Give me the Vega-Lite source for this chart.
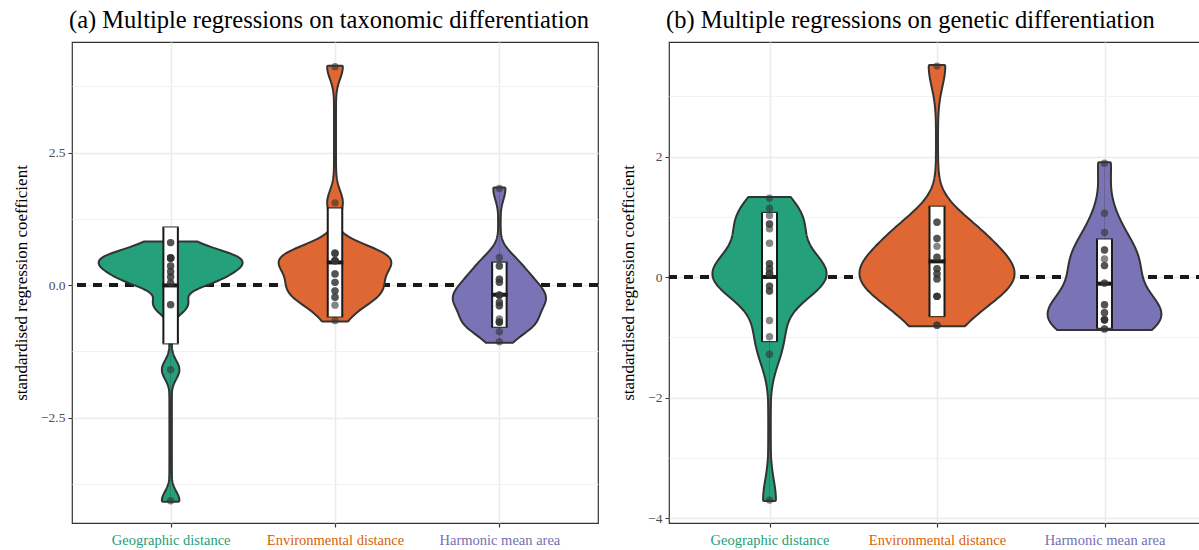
{
  "$schema": "https://vega.github.io/schema/vega-lite/v6.json",
  "padding": {"left": 11, "top": 6, "right": 0, "bottom": 0},
  "spacing": 19,
  "background": "white",
  "datasets": {
    "a": [
      {"cat": "Geographic distance", "value": -4.07},
      {"cat": "Geographic distance", "value": -1.6},
      {"cat": "Geographic distance", "value": -0.37},
      {"cat": "Geographic distance", "value": -0.37},
      {"cat": "Geographic distance", "value": 0.04},
      {"cat": "Geographic distance", "value": 0.04},
      {"cat": "Geographic distance", "value": 0.15},
      {"cat": "Geographic distance", "value": 0.15},
      {"cat": "Geographic distance", "value": 0.25},
      {"cat": "Geographic distance", "value": 0.25},
      {"cat": "Geographic distance", "value": 0.36},
      {"cat": "Geographic distance", "value": 0.36},
      {"cat": "Geographic distance", "value": 0.51},
      {"cat": "Geographic distance", "value": 0.51},
      {"cat": "Geographic distance", "value": 0.51},
      {"cat": "Geographic distance", "value": 0.51},
      {"cat": "Geographic distance", "value": 0.51},
      {"cat": "Geographic distance", "value": 0.51},
      {"cat": "Geographic distance", "value": 0.8},
      {"cat": "Geographic distance", "value": 0.8},
      {"cat": "Environmental distance", "value": 4.12},
      {"cat": "Environmental distance", "value": 1.55},
      {"cat": "Environmental distance", "value": 0.6},
      {"cat": "Environmental distance", "value": 0.6},
      {"cat": "Environmental distance", "value": 0.6},
      {"cat": "Environmental distance", "value": 0.46},
      {"cat": "Environmental distance", "value": 0.46},
      {"cat": "Environmental distance", "value": 0.46},
      {"cat": "Environmental distance", "value": 0.46},
      {"cat": "Environmental distance", "value": 0.21},
      {"cat": "Environmental distance", "value": 0.21},
      {"cat": "Environmental distance", "value": 0.05},
      {"cat": "Environmental distance", "value": 0.05},
      {"cat": "Environmental distance", "value": -0.11},
      {"cat": "Environmental distance", "value": -0.11},
      {"cat": "Environmental distance", "value": -0.23},
      {"cat": "Environmental distance", "value": -0.23},
      {"cat": "Environmental distance", "value": -0.38},
      {"cat": "Environmental distance", "value": -0.67},
      {"cat": "Harmonic mean area", "value": 1.82},
      {"cat": "Harmonic mean area", "value": 0.52},
      {"cat": "Harmonic mean area", "value": 0.36},
      {"cat": "Harmonic mean area", "value": 0.36},
      {"cat": "Harmonic mean area", "value": 0.11},
      {"cat": "Harmonic mean area", "value": 0.11},
      {"cat": "Harmonic mean area", "value": 0.05},
      {"cat": "Harmonic mean area", "value": 0.05},
      {"cat": "Harmonic mean area", "value": -0.19},
      {"cat": "Harmonic mean area", "value": -0.19},
      {"cat": "Harmonic mean area", "value": -0.19},
      {"cat": "Harmonic mean area", "value": -0.19},
      {"cat": "Harmonic mean area", "value": -0.33},
      {"cat": "Harmonic mean area", "value": -0.33},
      {"cat": "Harmonic mean area", "value": -0.39},
      {"cat": "Harmonic mean area", "value": -0.39},
      {"cat": "Harmonic mean area", "value": -0.64},
      {"cat": "Harmonic mean area", "value": -0.7},
      {"cat": "Harmonic mean area", "value": -0.7},
      {"cat": "Harmonic mean area", "value": -0.7},
      {"cat": "Harmonic mean area", "value": -0.7},
      {"cat": "Harmonic mean area", "value": -0.88},
      {"cat": "Harmonic mean area", "value": -1.07}
    ],
    "b": [
      {"cat": "Geographic distance", "value": 1.31},
      {"cat": "Geographic distance", "value": 1.14},
      {"cat": "Geographic distance", "value": 1.02},
      {"cat": "Geographic distance", "value": 0.88},
      {"cat": "Geographic distance", "value": 0.88},
      {"cat": "Geographic distance", "value": 0.8},
      {"cat": "Geographic distance", "value": 0.56},
      {"cat": "Geographic distance", "value": 0.22},
      {"cat": "Geographic distance", "value": 0.22},
      {"cat": "Geographic distance", "value": 0.14},
      {"cat": "Geographic distance", "value": 0.14},
      {"cat": "Geographic distance", "value": 0.06},
      {"cat": "Geographic distance", "value": 0.06},
      {"cat": "Geographic distance", "value": 0.06},
      {"cat": "Geographic distance", "value": -0.15},
      {"cat": "Geographic distance", "value": -0.15},
      {"cat": "Geographic distance", "value": -0.23},
      {"cat": "Geographic distance", "value": -0.23},
      {"cat": "Geographic distance", "value": -0.72},
      {"cat": "Geographic distance", "value": -0.99},
      {"cat": "Geographic distance", "value": -1.28},
      {"cat": "Geographic distance", "value": -3.7},
      {"cat": "Environmental distance", "value": 3.5},
      {"cat": "Environmental distance", "value": 0.91},
      {"cat": "Environmental distance", "value": 0.91},
      {"cat": "Environmental distance", "value": 0.64},
      {"cat": "Environmental distance", "value": 0.64},
      {"cat": "Environmental distance", "value": 0.51},
      {"cat": "Environmental distance", "value": 0.33},
      {"cat": "Environmental distance", "value": 0.33},
      {"cat": "Environmental distance", "value": 0.14},
      {"cat": "Environmental distance", "value": 0.14},
      {"cat": "Environmental distance", "value": 0.05},
      {"cat": "Environmental distance", "value": 0.05},
      {"cat": "Environmental distance", "value": -0.03},
      {"cat": "Environmental distance", "value": -0.03},
      {"cat": "Environmental distance", "value": -0.32},
      {"cat": "Environmental distance", "value": -0.32},
      {"cat": "Environmental distance", "value": -0.32},
      {"cat": "Environmental distance", "value": -0.32},
      {"cat": "Environmental distance", "value": -0.8},
      {"cat": "Environmental distance", "value": -0.8},
      {"cat": "Harmonic mean area", "value": 1.89},
      {"cat": "Harmonic mean area", "value": 1.06},
      {"cat": "Harmonic mean area", "value": 0.74},
      {"cat": "Harmonic mean area", "value": 0.45},
      {"cat": "Harmonic mean area", "value": 0.45},
      {"cat": "Harmonic mean area", "value": 0.3},
      {"cat": "Harmonic mean area", "value": 0.19},
      {"cat": "Harmonic mean area", "value": 0.19},
      {"cat": "Harmonic mean area", "value": -0.1},
      {"cat": "Harmonic mean area", "value": -0.1},
      {"cat": "Harmonic mean area", "value": -0.46},
      {"cat": "Harmonic mean area", "value": -0.46},
      {"cat": "Harmonic mean area", "value": -0.59},
      {"cat": "Harmonic mean area", "value": -0.59},
      {"cat": "Harmonic mean area", "value": -0.71},
      {"cat": "Harmonic mean area", "value": -0.71},
      {"cat": "Harmonic mean area", "value": -0.71},
      {"cat": "Harmonic mean area", "value": -0.71},
      {"cat": "Harmonic mean area", "value": -0.71},
      {"cat": "Harmonic mean area", "value": -0.86},
      {"cat": "Harmonic mean area", "value": -0.86}
    ]
  },
  "hconcat": [
    {
      "data": {"name": "a"},
      "width": 526,
      "height": 481,
      "title": {"text": "(a) Multiple regressions on taxonomic differentiation", "anchor": "start", "frame": "group", "font": "Liberation Serif", "fontSize": 24.5, "fontWeight": "normal", "color": "#000000", "offset": 9, "dx": -3},
      "resolve": {"scale": {"x": "independent"}},
      "layer": [
        {"mark": {"type": "rule", "strokeDash": [9, 7], "strokeWidth": 2.5, "color": "#1a1a1a"},
         "encoding": {"y": {"datum": 0, "type": "quantitative", "scale": {"domain": [-4.49, 4.585], "nice": false, "zero": false}}}},

        {"transform": [{"filter": "datum.cat == 'Geographic distance'"}, {"density": "value", "bandwidth": 0.168, "extent": [-4.07, 0.8], "steps": 200, "as": ["value", "density"]}],
         "mark": {"type": "area", "orient": "horizontal", "fill": "#24A07B", "stroke": "#333333", "strokeWidth": 4, "strokeJoin": "round"},
         "encoding": {"y": {"field": "value", "type": "quantitative", "title": "standardised regression coefficient", "scale": {"domain": [-4.49, 4.585], "nice": false, "zero": false}},
                      "x": {"field": "density", "type": "quantitative", "stack": null, "scale": {"domain": [-1.506, 6.526], "nice": false}, "axis": null}}},
        {"transform": [{"filter": "datum.cat == 'Geographic distance'"}, {"density": "value", "bandwidth": 0.168, "extent": [-4.07, 0.8], "steps": 200, "as": ["value", "density"]}],
         "mark": {"type": "area", "orient": "horizontal", "fill": "#24A07B", "stroke": "#333333", "strokeWidth": 4, "strokeJoin": "round"},
         "encoding": {"y": {"field": "value", "type": "quantitative", "title": "standardised regression coefficient", "scale": {"domain": [-4.49, 4.585], "nice": false, "zero": false}},
                      "x": {"field": "density", "type": "quantitative", "stack": null, "scale": {"domain": [-6.526, 1.506], "nice": false, "reverse": true}, "axis": null}}},
        {"transform": [{"filter": "datum.cat == 'Geographic distance'"}, {"density": "value", "bandwidth": 0.168, "extent": [-4.07, 0.8], "steps": 200, "as": ["value", "density"]}],
         "mark": {"type": "area", "orient": "horizontal", "fill": "#24A07B"},
         "encoding": {"y": {"field": "value", "type": "quantitative", "title": "standardised regression coefficient", "scale": {"domain": [-4.49, 4.585], "nice": false, "zero": false}},
                      "x": {"field": "density", "type": "quantitative", "stack": null, "scale": {"domain": [-1.506, 6.526], "nice": false}, "axis": null}}},
        {"transform": [{"filter": "datum.cat == 'Geographic distance'"}, {"density": "value", "bandwidth": 0.168, "extent": [-4.07, 0.8], "steps": 200, "as": ["value", "density"]}],
         "mark": {"type": "area", "orient": "horizontal", "fill": "#24A07B"},
         "encoding": {"y": {"field": "value", "type": "quantitative", "title": "standardised regression coefficient", "scale": {"domain": [-4.49, 4.585], "nice": false, "zero": false}},
                      "x": {"field": "density", "type": "quantitative", "stack": null, "scale": {"domain": [-6.526, 1.506], "nice": false, "reverse": true}, "axis": null}}},

        {"transform": [{"filter": "datum.cat == 'Environmental distance'"}, {"density": "value", "bandwidth": 0.225, "extent": [-0.67, 4.12], "steps": 200, "as": ["value", "density"]}],
         "mark": {"type": "area", "orient": "horizontal", "fill": "#DF6733", "stroke": "#333333", "strokeWidth": 4, "strokeJoin": "round"},
         "encoding": {"y": {"field": "value", "type": "quantitative", "title": "standardised regression coefficient", "scale": {"domain": [-4.49, 4.585], "nice": false, "zero": false}},
                      "x": {"field": "density", "type": "quantitative", "stack": null, "scale": {"domain": [-3.584, 3.584], "nice": false}, "axis": null}}},
        {"transform": [{"filter": "datum.cat == 'Environmental distance'"}, {"density": "value", "bandwidth": 0.225, "extent": [-0.67, 4.12], "steps": 200, "as": ["value", "density"]}],
         "mark": {"type": "area", "orient": "horizontal", "fill": "#DF6733", "stroke": "#333333", "strokeWidth": 4, "strokeJoin": "round"},
         "encoding": {"y": {"field": "value", "type": "quantitative", "title": "standardised regression coefficient", "scale": {"domain": [-4.49, 4.585], "nice": false, "zero": false}},
                      "x": {"field": "density", "type": "quantitative", "stack": null, "scale": {"domain": [-3.584, 3.584], "nice": false, "reverse": true}, "axis": null}}},
        {"transform": [{"filter": "datum.cat == 'Environmental distance'"}, {"density": "value", "bandwidth": 0.225, "extent": [-0.67, 4.12], "steps": 200, "as": ["value", "density"]}],
         "mark": {"type": "area", "orient": "horizontal", "fill": "#DF6733"},
         "encoding": {"y": {"field": "value", "type": "quantitative", "title": "standardised regression coefficient", "scale": {"domain": [-4.49, 4.585], "nice": false, "zero": false}},
                      "x": {"field": "density", "type": "quantitative", "stack": null, "scale": {"domain": [-3.584, 3.584], "nice": false}, "axis": null}}},
        {"transform": [{"filter": "datum.cat == 'Environmental distance'"}, {"density": "value", "bandwidth": 0.225, "extent": [-0.67, 4.12], "steps": 200, "as": ["value", "density"]}],
         "mark": {"type": "area", "orient": "horizontal", "fill": "#DF6733"},
         "encoding": {"y": {"field": "value", "type": "quantitative", "title": "standardised regression coefficient", "scale": {"domain": [-4.49, 4.585], "nice": false, "zero": false}},
                      "x": {"field": "density", "type": "quantitative", "stack": null, "scale": {"domain": [-3.584, 3.584], "nice": false, "reverse": true}, "axis": null}}},

        {"transform": [{"filter": "datum.cat == 'Harmonic mean area'"}, {"density": "value", "bandwidth": 0.207, "extent": [-1.07, 1.82], "steps": 200, "as": ["value", "density"]}],
         "mark": {"type": "area", "orient": "horizontal", "fill": "#7A73B6", "stroke": "#333333", "strokeWidth": 4, "strokeJoin": "round"},
         "encoding": {"y": {"field": "value", "type": "quantitative", "title": "standardised regression coefficient", "scale": {"domain": [-4.49, 4.585], "nice": false, "zero": false}},
                      "x": {"field": "density", "type": "quantitative", "stack": null, "scale": {"domain": [-7.072, 1.632], "nice": false}, "axis": null}}},
        {"transform": [{"filter": "datum.cat == 'Harmonic mean area'"}, {"density": "value", "bandwidth": 0.207, "extent": [-1.07, 1.82], "steps": 200, "as": ["value", "density"]}],
         "mark": {"type": "area", "orient": "horizontal", "fill": "#7A73B6", "stroke": "#333333", "strokeWidth": 4, "strokeJoin": "round"},
         "encoding": {"y": {"field": "value", "type": "quantitative", "title": "standardised regression coefficient", "scale": {"domain": [-4.49, 4.585], "nice": false, "zero": false}},
                      "x": {"field": "density", "type": "quantitative", "stack": null, "scale": {"domain": [-1.632, 7.072], "nice": false, "reverse": true}, "axis": null}}},
        {"transform": [{"filter": "datum.cat == 'Harmonic mean area'"}, {"density": "value", "bandwidth": 0.207, "extent": [-1.07, 1.82], "steps": 200, "as": ["value", "density"]}],
         "mark": {"type": "area", "orient": "horizontal", "fill": "#7A73B6"},
         "encoding": {"y": {"field": "value", "type": "quantitative", "title": "standardised regression coefficient", "scale": {"domain": [-4.49, 4.585], "nice": false, "zero": false}},
                      "x": {"field": "density", "type": "quantitative", "stack": null, "scale": {"domain": [-7.072, 1.632], "nice": false}, "axis": null}}},
        {"transform": [{"filter": "datum.cat == 'Harmonic mean area'"}, {"density": "value", "bandwidth": 0.207, "extent": [-1.07, 1.82], "steps": 200, "as": ["value", "density"]}],
         "mark": {"type": "area", "orient": "horizontal", "fill": "#7A73B6"},
         "encoding": {"y": {"field": "value", "type": "quantitative", "title": "standardised regression coefficient", "scale": {"domain": [-4.49, 4.585], "nice": false, "zero": false}},
                      "x": {"field": "density", "type": "quantitative", "stack": null, "scale": {"domain": [-1.632, 7.072], "nice": false, "reverse": true}, "axis": null}}},

        {"mark": {"type": "errorbar", "extent": "stdev", "rule": {"color": "#1a1a1a", "strokeWidth": 16.5}},
         "encoding": {"x": {"field": "cat", "type": "nominal", "scale": {"type": "point", "domain": ["Geographic distance", "Environmental distance", "Harmonic mean area"], "padding": 0.6}, "axis": null},
                      "y": {"field": "value", "type": "quantitative", "title": "standardised regression coefficient", "scale": {"domain": [-4.49, 4.585], "nice": false, "zero": false}}}},
        {"mark": {"type": "errorbar", "extent": "stdev", "rule": {"color": "#ffffff", "strokeWidth": 12.5}, "ticks": {"color": "#1a1a1a", "size": 16.5, "thickness": 2.5}},
         "encoding": {"x": {"field": "cat", "type": "nominal", "scale": {"type": "point", "domain": ["Geographic distance", "Environmental distance", "Harmonic mean area"], "padding": 0.6}, "axis": null},
                      "y": {"field": "value", "type": "quantitative", "title": "standardised regression coefficient", "scale": {"domain": [-4.49, 4.585], "nice": false, "zero": false}}}},
        {"mark": {"type": "tick", "color": "#1a1a1a", "thickness": 4, "size": 16.5, "opacity": 1},
         "encoding": {"x": {"field": "cat", "type": "nominal", "scale": {"type": "point", "domain": ["Geographic distance", "Environmental distance", "Harmonic mean area"], "padding": 0.6}, "axis": null},
                      "y": {"aggregate": "mean", "field": "value", "type": "quantitative", "title": "standardised regression coefficient", "scale": {"domain": [-4.49, 4.585], "nice": false, "zero": false}}}},
        {"mark": {"type": "circle", "size": 55, "color": "#333333", "opacity": 0.6},
         "encoding": {"x": {"field": "cat", "type": "nominal", "scale": {"type": "point", "domain": ["Geographic distance", "Environmental distance", "Harmonic mean area"], "padding": 0.6},
                            "axis": {"title": null, "grid": true, "gridColor": "#EBEBEB", "gridWidth": 1.5, "domain": false, "tickColor": "#333333", "tickSize": 4, "tickWidth": 1.2, "labelAngle": 0, "labelFont": "Liberation Serif", "labelFontSize": 14.5, "labelPadding": 6,
                                     "labelColor": {"condition": [{"test": "datum.value == 'Geographic distance'", "value": "#1B9E77"}, {"test": "datum.value == 'Environmental distance'", "value": "#D95F02"}], "value": "#7570B3"}}},
                      "y": {"field": "value", "type": "quantitative", "title": "standardised regression coefficient", "scale": {"domain": [-4.49, 4.585], "nice": false, "zero": false},
                            "axis": {"titleFont": "Liberation Serif", "titleFontSize": 17, "titleFontWeight": "normal", "titleColor": "#000000", "titlePadding": 10,
                                     "values": [-3.75, -2.5, -1.25, 0, 1.25, 2.5, 3.75], "format": ".1f", "labelExpr": "datum.value % 2.5 == 0 ? datum.label : ''",
                                     "labelFont": "Liberation Serif", "labelFontSize": 13.5, "labelColor": "#4D4D4D", "labelPadding": 3, "tickSize": 4, "domain": false,
                                     "tickColor": {"condition": {"test": "datum.value % 2.5 == 0", "value": "#333333"}, "value": "transparent"},
                                     "grid": true,
                                     "gridColor": {"condition": {"test": "datum.value % 2.5 == 0", "value": "#EBEBEB"}, "value": "#F2F2F2"},
                                     "gridWidth": {"condition": {"test": "datum.value % 2.5 == 0", "value": 1.5}, "value": 1}}}}}
      ]
    },
    {
      "data": {"name": "b"},
      "width": 536,
      "height": 481,
      "title": {"text": "(b) Multiple regressions on genetic differentiation", "anchor": "start", "frame": "group", "font": "Liberation Serif", "fontSize": 24.5, "fontWeight": "normal", "color": "#000000", "offset": 9, "dx": -3},
      "resolve": {"scale": {"x": "independent"}},
      "layer": [
        {"mark": {"type": "rule", "strokeDash": [9, 7], "strokeWidth": 2.5, "color": "#1a1a1a"},
         "encoding": {"y": {"datum": 0, "type": "quantitative", "scale": {"domain": [-4.08, 3.9], "nice": false, "zero": false}}}},

        {"transform": [{"filter": "datum.cat == 'Geographic distance'"}, {"density": "value", "bandwidth": 0.335, "extent": [-3.7, 1.31], "steps": 200, "as": ["value", "density"]}],
         "mark": {"type": "area", "orient": "horizontal", "fill": "#24A07B", "stroke": "#333333", "strokeWidth": 4, "strokeJoin": "round"},
         "encoding": {"y": {"field": "value", "type": "quantitative", "title": "standardised regression coefficient", "scale": {"domain": [-4.08, 3.9], "nice": false, "zero": false}},
                      "x": {"field": "density", "type": "quantitative", "stack": null, "scale": {"domain": [-1.005, 4.355], "nice": false}, "axis": null}}},
        {"transform": [{"filter": "datum.cat == 'Geographic distance'"}, {"density": "value", "bandwidth": 0.335, "extent": [-3.7, 1.31], "steps": 200, "as": ["value", "density"]}],
         "mark": {"type": "area", "orient": "horizontal", "fill": "#24A07B", "stroke": "#333333", "strokeWidth": 4, "strokeJoin": "round"},
         "encoding": {"y": {"field": "value", "type": "quantitative", "title": "standardised regression coefficient", "scale": {"domain": [-4.08, 3.9], "nice": false, "zero": false}},
                      "x": {"field": "density", "type": "quantitative", "stack": null, "scale": {"domain": [-4.355, 1.005], "nice": false, "reverse": true}, "axis": null}}},
        {"transform": [{"filter": "datum.cat == 'Geographic distance'"}, {"density": "value", "bandwidth": 0.335, "extent": [-3.7, 1.31], "steps": 200, "as": ["value", "density"]}],
         "mark": {"type": "area", "orient": "horizontal", "fill": "#24A07B"},
         "encoding": {"y": {"field": "value", "type": "quantitative", "title": "standardised regression coefficient", "scale": {"domain": [-4.08, 3.9], "nice": false, "zero": false}},
                      "x": {"field": "density", "type": "quantitative", "stack": null, "scale": {"domain": [-1.005, 4.355], "nice": false}, "axis": null}}},
        {"transform": [{"filter": "datum.cat == 'Geographic distance'"}, {"density": "value", "bandwidth": 0.335, "extent": [-3.7, 1.31], "steps": 200, "as": ["value", "density"]}],
         "mark": {"type": "area", "orient": "horizontal", "fill": "#24A07B"},
         "encoding": {"y": {"field": "value", "type": "quantitative", "title": "standardised regression coefficient", "scale": {"domain": [-4.08, 3.9], "nice": false, "zero": false}},
                      "x": {"field": "density", "type": "quantitative", "stack": null, "scale": {"domain": [-4.355, 1.005], "nice": false, "reverse": true}, "axis": null}}},

        {"transform": [{"filter": "datum.cat == 'Environmental distance'"}, {"density": "value", "bandwidth": 0.34, "extent": [-0.8, 3.5], "steps": 200, "as": ["value", "density"]}],
         "mark": {"type": "area", "orient": "horizontal", "fill": "#DF6733", "stroke": "#333333", "strokeWidth": 4, "strokeJoin": "round"},
         "encoding": {"y": {"field": "value", "type": "quantitative", "title": "standardised regression coefficient", "scale": {"domain": [-4.08, 3.9], "nice": false, "zero": false}},
                      "x": {"field": "density", "type": "quantitative", "stack": null, "scale": {"domain": [-2.163, 2.163], "nice": false}, "axis": null}}},
        {"transform": [{"filter": "datum.cat == 'Environmental distance'"}, {"density": "value", "bandwidth": 0.34, "extent": [-0.8, 3.5], "steps": 200, "as": ["value", "density"]}],
         "mark": {"type": "area", "orient": "horizontal", "fill": "#DF6733", "stroke": "#333333", "strokeWidth": 4, "strokeJoin": "round"},
         "encoding": {"y": {"field": "value", "type": "quantitative", "title": "standardised regression coefficient", "scale": {"domain": [-4.08, 3.9], "nice": false, "zero": false}},
                      "x": {"field": "density", "type": "quantitative", "stack": null, "scale": {"domain": [-2.163, 2.163], "nice": false, "reverse": true}, "axis": null}}},
        {"transform": [{"filter": "datum.cat == 'Environmental distance'"}, {"density": "value", "bandwidth": 0.34, "extent": [-0.8, 3.5], "steps": 200, "as": ["value", "density"]}],
         "mark": {"type": "area", "orient": "horizontal", "fill": "#DF6733"},
         "encoding": {"y": {"field": "value", "type": "quantitative", "title": "standardised regression coefficient", "scale": {"domain": [-4.08, 3.9], "nice": false, "zero": false}},
                      "x": {"field": "density", "type": "quantitative", "stack": null, "scale": {"domain": [-2.163, 2.163], "nice": false}, "axis": null}}},
        {"transform": [{"filter": "datum.cat == 'Environmental distance'"}, {"density": "value", "bandwidth": 0.34, "extent": [-0.8, 3.5], "steps": 200, "as": ["value", "density"]}],
         "mark": {"type": "area", "orient": "horizontal", "fill": "#DF6733"},
         "encoding": {"y": {"field": "value", "type": "quantitative", "title": "standardised regression coefficient", "scale": {"domain": [-4.08, 3.9], "nice": false, "zero": false}},
                      "x": {"field": "density", "type": "quantitative", "stack": null, "scale": {"domain": [-2.163, 2.163], "nice": false, "reverse": true}, "axis": null}}},

        {"transform": [{"filter": "datum.cat == 'Harmonic mean area'"}, {"density": "value", "bandwidth": 0.35, "extent": [-0.86, 1.89], "steps": 200, "as": ["value", "density"]}],
         "mark": {"type": "area", "orient": "horizontal", "fill": "#7A73B6", "stroke": "#333333", "strokeWidth": 4, "strokeJoin": "round"},
         "encoding": {"y": {"field": "value", "type": "quantitative", "title": "standardised regression coefficient", "scale": {"domain": [-4.08, 3.9], "nice": false, "zero": false}},
                      "x": {"field": "density", "type": "quantitative", "stack": null, "scale": {"domain": [-4.68, 1.08], "nice": false}, "axis": null}}},
        {"transform": [{"filter": "datum.cat == 'Harmonic mean area'"}, {"density": "value", "bandwidth": 0.35, "extent": [-0.86, 1.89], "steps": 200, "as": ["value", "density"]}],
         "mark": {"type": "area", "orient": "horizontal", "fill": "#7A73B6", "stroke": "#333333", "strokeWidth": 4, "strokeJoin": "round"},
         "encoding": {"y": {"field": "value", "type": "quantitative", "title": "standardised regression coefficient", "scale": {"domain": [-4.08, 3.9], "nice": false, "zero": false}},
                      "x": {"field": "density", "type": "quantitative", "stack": null, "scale": {"domain": [-1.08, 4.68], "nice": false, "reverse": true}, "axis": null}}},
        {"transform": [{"filter": "datum.cat == 'Harmonic mean area'"}, {"density": "value", "bandwidth": 0.35, "extent": [-0.86, 1.89], "steps": 200, "as": ["value", "density"]}],
         "mark": {"type": "area", "orient": "horizontal", "fill": "#7A73B6"},
         "encoding": {"y": {"field": "value", "type": "quantitative", "title": "standardised regression coefficient", "scale": {"domain": [-4.08, 3.9], "nice": false, "zero": false}},
                      "x": {"field": "density", "type": "quantitative", "stack": null, "scale": {"domain": [-4.68, 1.08], "nice": false}, "axis": null}}},
        {"transform": [{"filter": "datum.cat == 'Harmonic mean area'"}, {"density": "value", "bandwidth": 0.35, "extent": [-0.86, 1.89], "steps": 200, "as": ["value", "density"]}],
         "mark": {"type": "area", "orient": "horizontal", "fill": "#7A73B6"},
         "encoding": {"y": {"field": "value", "type": "quantitative", "title": "standardised regression coefficient", "scale": {"domain": [-4.08, 3.9], "nice": false, "zero": false}},
                      "x": {"field": "density", "type": "quantitative", "stack": null, "scale": {"domain": [-1.08, 4.68], "nice": false, "reverse": true}, "axis": null}}},

        {"mark": {"type": "errorbar", "extent": "stdev", "rule": {"color": "#1a1a1a", "strokeWidth": 17}},
         "encoding": {"x": {"field": "cat", "type": "nominal", "scale": {"type": "point", "domain": ["Geographic distance", "Environmental distance", "Harmonic mean area"], "padding": 0.6}, "axis": null},
                      "y": {"field": "value", "type": "quantitative", "title": "standardised regression coefficient", "scale": {"domain": [-4.08, 3.9], "nice": false, "zero": false}}}},
        {"mark": {"type": "errorbar", "extent": "stdev", "rule": {"color": "#ffffff", "strokeWidth": 13}, "ticks": {"color": "#1a1a1a", "size": 17, "thickness": 2.5}},
         "encoding": {"x": {"field": "cat", "type": "nominal", "scale": {"type": "point", "domain": ["Geographic distance", "Environmental distance", "Harmonic mean area"], "padding": 0.6}, "axis": null},
                      "y": {"field": "value", "type": "quantitative", "title": "standardised regression coefficient", "scale": {"domain": [-4.08, 3.9], "nice": false, "zero": false}}}},
        {"mark": {"type": "tick", "color": "#1a1a1a", "thickness": 4, "size": 17, "opacity": 1},
         "encoding": {"x": {"field": "cat", "type": "nominal", "scale": {"type": "point", "domain": ["Geographic distance", "Environmental distance", "Harmonic mean area"], "padding": 0.6}, "axis": null},
                      "y": {"aggregate": "mean", "field": "value", "type": "quantitative", "title": "standardised regression coefficient", "scale": {"domain": [-4.08, 3.9], "nice": false, "zero": false}}}},
        {"mark": {"type": "circle", "size": 55, "color": "#333333", "opacity": 0.6},
         "encoding": {"x": {"field": "cat", "type": "nominal", "scale": {"type": "point", "domain": ["Geographic distance", "Environmental distance", "Harmonic mean area"], "padding": 0.6},
                            "axis": {"title": null, "grid": true, "gridColor": "#EBEBEB", "gridWidth": 1.5, "domain": false, "tickColor": "#333333", "tickSize": 4, "tickWidth": 1.2, "labelAngle": 0, "labelFont": "Liberation Serif", "labelFontSize": 14.5, "labelPadding": 6,
                                     "labelColor": {"condition": [{"test": "datum.value == 'Geographic distance'", "value": "#1B9E77"}, {"test": "datum.value == 'Environmental distance'", "value": "#D95F02"}], "value": "#7570B3"}}},
                      "y": {"field": "value", "type": "quantitative", "title": "standardised regression coefficient", "scale": {"domain": [-4.08, 3.9], "nice": false, "zero": false},
                            "axis": {"titleFont": "Liberation Serif", "titleFontSize": 17, "titleFontWeight": "normal", "titleColor": "#000000", "titlePadding": 10,
                                     "values": [-4, -3, -2, -1, 0, 1, 2, 3], "format": "d", "labelExpr": "datum.value % 2 == 0 ? datum.label : ''",
                                     "labelFont": "Liberation Serif", "labelFontSize": 13.5, "labelColor": "#4D4D4D", "labelPadding": 3, "tickSize": 4, "domain": false,
                                     "tickColor": {"condition": {"test": "datum.value % 2 == 0", "value": "#333333"}, "value": "transparent"},
                                     "grid": true,
                                     "gridColor": {"condition": {"test": "datum.value % 2 == 0", "value": "#EBEBEB"}, "value": "#F2F2F2"},
                                     "gridWidth": {"condition": {"test": "datum.value % 2 == 0", "value": 1.5}, "value": 1}}}}}
      ]
    }
  ],
  "config": {
    "view": {"stroke": "#333333", "strokeWidth": 1.2},
    "font": "Liberation Serif"
  }
}
